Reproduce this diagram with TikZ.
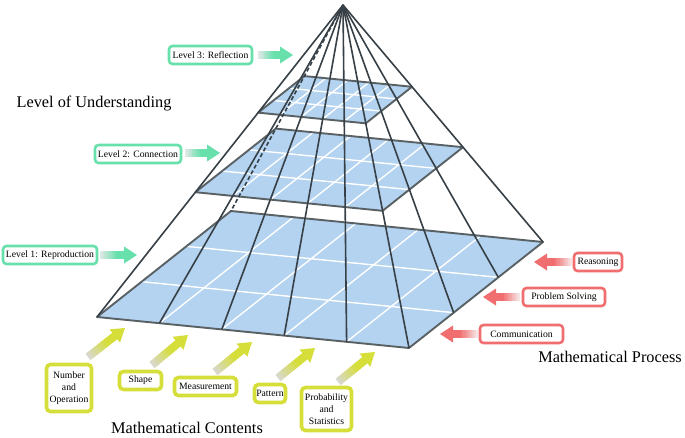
\documentclass[tikz,border=0pt]{standalone}
\usepackage{fontspec}
\setmainfont{Liberation Serif}
\usetikzlibrary{calc}
\definecolor{planeblue}{RGB}{179,211,240}
\definecolor{ribgray}{RGB}{55,64,70}
\definecolor{edgegray}{RGB}{90,97,101}
\definecolor{mint}{RGB}{104,224,172}
\definecolor{mintlight}{RGB}{222,232,228}
\definecolor{lime}{RGB}{214,222,58}
\definecolor{limelight}{RGB}{216,216,204}
\definecolor{salmon}{RGB}{240,110,112}
\definecolor{salmonlight}{RGB}{246,228,228}
\tikzset{
  rib/.style={draw=ribgray, line width=1.6pt},
  gridwhite/.style={draw=white, line width=1.4pt},
  planeedge/.style={draw=edgegray, line width=1.9pt, line join=round},
  boxtext/.style={font=\fontsize{9.7}{11.7}\selectfont, align=center, text=black},
  greenbox/.style={boxtext, draw=mint, line width=2.6pt, rounded corners=3.5pt, fill=white, inner sep=0pt, minimum height=18pt},
  redbox/.style={boxtext, draw=salmon, line width=2.6pt, rounded corners=3.5pt, fill=white, inner sep=0pt, minimum height=18pt},
  limebox/.style={boxtext, draw=lime, line width=3.6pt, rounded corners=4pt, fill=white, inner sep=0pt, minimum height=18pt},
  bigtitle/.style={font=\fontsize{16.3}{19}\selectfont, text=black}
}
\newcommand{\blockarrow}[4]{%
  \coordinate (hb) at ($(#2)!13pt!(#1)$);
  \foreach \k in {0,...,11}{
    \pgfmathsetmacro\pa{\k/12}
    \pgfmathsetmacro\pb{(\k+1.2)/12}
    \pgfmathtruncatemacro\pc{min(100,100*\k/8)}
    \draw[line width=8pt, color=#4!\pc!#3] ($(#1)!\pa!(hb)$) -- ($(#1)!\pb!(hb)$);
  }
  \fill[#4] ($(hb)!8.5pt!90:(#2)$) -- (#2) -- ($(hb)!8.5pt!-90:(#2)$) -- cycle;
}
\newcommand{\gridplane}[4]{%
  \fill[planeblue] (#1) -- (#2) -- (#3) -- (#4) -- cycle;
  \foreach \i in {1,...,4} \draw[gridwhite] ($(#1)!\i/5!(#2)$) -- ($(#4)!\i/5!(#3)$);
  \foreach \j in {1,2} \draw[gridwhite] ($(#1)!\j/3!(#4)$) -- ($(#2)!\j/3!(#3)$);
  \draw[planeedge] (#1) -- (#2) -- (#3) -- (#4) -- cycle;
}
\begin{document}
\begin{tikzpicture}[x=1pt,y=-1pt]
\useasboundingbox (0,0) rectangle (685,437);
\fill[white] (0,0) rectangle (685,437);
% pyramid geometry
\coordinate (A) at (343,5);
\coordinate (L) at (97,317);
\coordinate (F) at (409,348);
\coordinate (R) at (543,242);
\coordinate (B) at (231,211);
\foreach \c in {L,F,R,B}{
  \coordinate (m\c) at ($(A)!0.6!(\c)$);
  \coordinate (t\c) at ($(A)!0.345!(\c)$);
}
% planes
\gridplane{L}{F}{R}{B}
\gridplane{mL}{mF}{mR}{mB}
\gridplane{tL}{tF}{tR}{tB}
% ribs
\foreach \i in {0,...,5} \draw[rib] (A) -- ($(L)!\i/5!(F)$);
\foreach \j in {1,2,3} \draw[rib] (A) -- ($(F)!\j/3!(R)$);
\draw[rib, dashed, dash pattern=on 4pt off 2.5pt] (A) -- (B);
% titles
\node[bigtitle] (lou) at (94,104) {Level of Understanding};
\node[bigtitle] (mc) at (187,428) {Mathematical Contents};
\node[bigtitle] (mp) at (610,357) {Mathematical Process};
% level boxes
\node[greenbox, minimum width=83pt] (l3) at (210.5,55) {Level 3: Reflection};
\node[greenbox, minimum width=86pt] (l2) at (138,154) {Level 2: Connection};
\node[greenbox, minimum width=94pt] (l1) at (50,255) {Level 1: Reproduction};
\coordinate (l3t) at (258,55); \coordinate (l3h) at (293,55);
\coordinate (l2t) at (185,153); \coordinate (l2h) at (220,153);
\coordinate (l1t) at (100,255); \coordinate (l1h) at (137,255);
\blockarrow{l3t}{l3h}{mintlight}{mint}
\blockarrow{l2t}{l2h}{mintlight}{mint}
\blockarrow{l1t}{l1h}{mintlight}{mint}
% process boxes
\node[redbox, minimum width=48pt] (rs) at (598,262) {Reasoning};
\node[redbox, minimum width=82pt] (ps) at (564,297) {Problem Solving};
\node[redbox, minimum width=83pt] (cm) at (521.5,334) {Communication};
\coordinate (rst) at (572,262); \coordinate (rsh) at (534,262);
\coordinate (pst) at (520,297); \coordinate (psh) at (483,297);
\coordinate (cmt) at (478,334); \coordinate (cmh) at (440,334);
\blockarrow{rst}{rsh}{salmonlight}{salmon}
\blockarrow{pst}{psh}{salmonlight}{salmon}
\blockarrow{cmt}{cmh}{salmonlight}{salmon}
% content boxes
\node[limebox, minimum width=45pt, minimum height=47pt] (no) at (69,388) {Number\\and\\Operation};
\node[limebox, minimum width=42pt] (sh) at (140.5,380.5) {Shape};
\node[limebox, minimum width=62pt] (me) at (205.5,386.5) {Measurement};
\node[limebox, minimum width=31pt] (pa) at (270,393.5) {Pattern};
\node[limebox, minimum width=50pt, minimum height=43pt] (pr) at (326.5,409) {Probability\\and\\Statistics};
\coordinate (a1t) at (88,357); \coordinate (a1h) at (125,328);
\coordinate (a2t) at (152,365); \coordinate (a2h) at (188,335);
\coordinate (a3t) at (215,372); \coordinate (a3h) at (252,342);
\coordinate (a4t) at (278,378); \coordinate (a4h) at (315,348);
\coordinate (a5t) at (338,382); \coordinate (a5h) at (375,352);
\blockarrow{a1t}{a1h}{limelight}{lime}
\blockarrow{a2t}{a2h}{limelight}{lime}
\blockarrow{a3t}{a3h}{limelight}{lime}
\blockarrow{a4t}{a4h}{limelight}{lime}
\blockarrow{a5t}{a5h}{limelight}{lime}
\end{tikzpicture}
\end{document}
